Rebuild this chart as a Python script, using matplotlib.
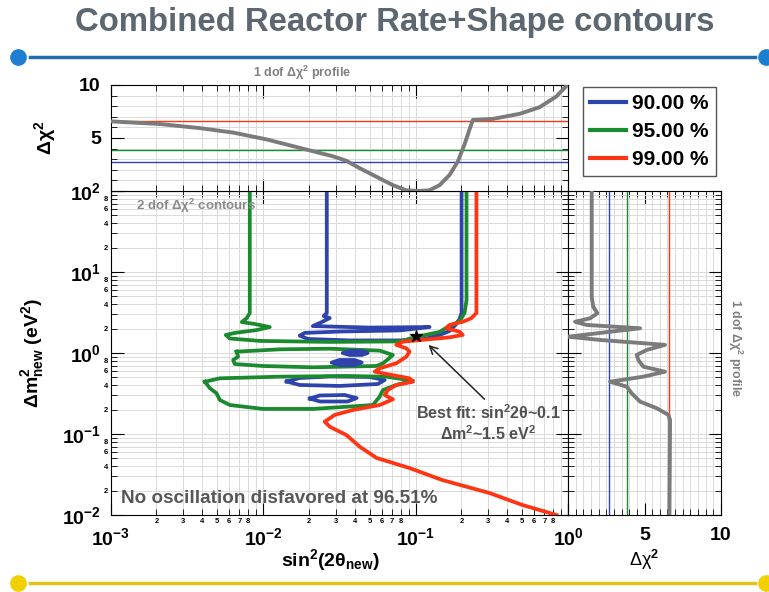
"""Combined reactor rate+shape contours with 1 dof profiles."""

import matplotlib
matplotlib.use("Agg")
import matplotlib.pyplot as plt
import numpy as np
from matplotlib.lines import Line2D
from matplotlib.ticker import FuncFormatter, LogLocator, MultipleLocator

plt.rcParams["font.family"] = ["Liberation Sans", "DejaVu Sans"]
plt.rcParams["font.weight"] = "bold"
plt.rcParams["axes.labelweight"] = "bold"
plt.rcParams["axes.titleweight"] = "bold"
plt.rcParams["mathtext.fontset"] = "custom"
plt.rcParams["mathtext.rm"] = "Liberation Sans:bold"
plt.rcParams["mathtext.bf"] = "Liberation Sans:bold"
plt.rcParams["mathtext.it"] = "Liberation Sans:bold:italic"

W, H = 769, 592

CL_LABELS = ["90.00 %", "95.00 %", "99.00 %"]
CL_CHI2 = [2.71, 3.84, 6.63]
CL_COLORS = ["#2f43ad", "#1b8a2e", "#ff3412"]
PROFILE_COLOR = "#7b7b7b"

# 1 dof profile against sin^2(2theta)
prof_s2t = [0.001, 0.00211, 0.00386, 0.00637, 0.01054, 0.01574, 0.0213, 0.0288,
            0.0352, 0.0431, 0.0553, 0.0711, 0.0871, 0.1064, 0.1236, 0.1438,
            0.167, 0.1897, 0.2097, 0.2285, 0.2377, 0.321, 0.481, 0.650, 0.836, 0.991]
prof_s2t_chi2 = [6.57, 6.32, 5.93, 5.51, 4.87, 4.23, 3.75, 3.27,
                 2.85, 2.15, 1.35, 0.55, 0.06, 0.0, 0.07, 0.55,
                 1.5, 2.8, 4.4, 6.0, 6.7, 6.8, 7.28, 7.9, 8.9, 10.0]

# 1 dof profile against dm2
prof_dm2 = [98, 4.95, 3.73, 3.09, 2.68, 2.43, 2.22, 2.02, 1.83, 1.59, 1.45, 1.26,
            1.09, 0.945, 0.820, 0.678, 0.588, 0.510, 0.442, 0.384, 0.318, 0.251,
            0.208, 0.172, 0.149, 0.0105]
prof_dm2_chi2 = [1.55, 1.55, 1.65, 1.92, 1.44, 0.46, 1.22, 4.71, 2.75, 0.02, 2.09, 6.34,
                 5.14, 4.49, 4.60, 4.92, 6.34, 4.92, 2.75, 3.84, 4.16, 4.71,
                 5.80, 6.56, 6.67, 6.63]

# 90% contour pieces
blue_main_s = [0.0262, 0.0262, 0.0250, 0.0274, 0.0243, 0.0212, 0.0500, 0.1236, 0.0787,
               0.0318, 0.0188, 0.0174, 0.0197, 0.0370, 0.0787, 0.1147, 0.144, 0.167,
               0.183, 0.1945, 0.2005, 0.2005]
blue_main_dm2 = [100, 3.12, 2.86, 2.70, 2.41, 2.15, 2.06, 2.09, 1.90,
                 1.84, 1.77, 1.64, 1.49, 1.43, 1.43, 1.49, 1.67, 1.87,
                 2.22, 2.63, 3.12, 100]
blue_isl1_s = [0.0333, 0.0370, 0.0444, 0.0485, 0.0444, 0.0370, 0.0333]
blue_isl1_dm2 = [1.0, 1.06, 1.06, 1.0, 0.945, 0.945, 1.0]
blue_isl2_s = [0.0282, 0.0318, 0.0399, 0.0444, 0.0399, 0.0318, 0.0282]
blue_isl2_dm2 = [0.763, 0.820, 0.820, 0.763, 0.711, 0.711, 0.763]
blue_isl3_s = [0.0143, 0.0174, 0.0274, 0.0500, 0.0628, 0.0565, 0.0318, 0.0174, 0.0143]
blue_isl3_dm2 = [0.445, 0.491, 0.513, 0.506, 0.464, 0.414, 0.392, 0.403, 0.445]
blue_isl4_s = [0.0203, 0.0236, 0.0343, 0.0411, 0.0359, 0.0236, 0.0203]
blue_isl4_dm2 = [0.274, 0.299, 0.303, 0.278, 0.252, 0.252, 0.274]

# 95% contour pieces
green_main_s = [0.00819, 0.00819, 0.00783, 0.00726, 0.00883, 0.01108, 0.00910, 0.00653,
                0.00570, 0.00606, 0.00953, 0.0274, 0.0787, 0.1016, 0.144, 0.162,
                0.186, 0.2005, 0.2097, 0.216, 0.216]
green_main_dm2 = [100, 3.12, 2.70, 2.41, 2.28, 2.09, 1.92, 1.77,
                  1.67, 1.51, 1.41, 1.37, 1.39, 1.58, 1.82, 2.09,
                  2.35, 2.70, 3.12, 4.51, 100]
green_loop2_s = [0.00671, 0.01288, 0.0274, 0.0582, 0.0711, 0.0659, 0.0612, 0.0553,
                 0.0213, 0.0100, 0.00653, 0.00637, 0.00687, 0.00671]
green_loop2_dm2 = [1.04, 1.11, 1.13, 1.07, 0.945, 0.836, 0.746, 0.691,
                   0.666, 0.691, 0.731, 0.820, 0.900, 1.04]
green_loop3_s = [0.00416, 0.00521, 0.01288, 0.0352, 0.0644, 0.0962, 0.0748, 0.0612,
                 0.0582, 0.0526, 0.0213, 0.0100, 0.00606, 0.00521, 0.00496, 0.00449,
                 0.00416]
green_loop3_dm2 = [0.442, 0.487, 0.510, 0.520, 0.510, 0.455, 0.403, 0.349,
                   0.289, 0.228, 0.204, 0.204, 0.228, 0.263, 0.318, 0.367,
                   0.442]

# 99% contour
red_s = [0.251, 0.251, 0.232, 0.204, 0.167, 0.159, 0.1945, 0.204, 0.167, 0.1236,
         0.0827, 0.0748, 0.0871, 0.0914, 0.0871, 0.0748, 0.0582, 0.0540, 0.0644,
         0.0914, 0.0962, 0.0748, 0.0659, 0.0628, 0.0711, 0.0582, 0.0389, 0.0295,
         0.0254, 0.0274, 0.0352, 0.0431, 0.0556, 0.0914, 0.150, 0.305, 0.502, 0.840]
red_dm2 = [100, 3.12, 2.68, 2.43, 2.22, 2.02, 1.83, 1.67, 1.56, 1.48,
           1.38, 1.26, 1.14, 1.04, 0.900, 0.746, 0.647, 0.588, 0.551,
           0.487, 0.442, 0.403, 0.349, 0.303, 0.268, 0.228, 0.198, 0.172,
           0.142, 0.123, 0.0972, 0.0697, 0.0506, 0.0380, 0.0270, 0.0187, 0.0133, 0.0100]

CONTOURS = [
    (0, blue_main_s, blue_main_dm2),
    (0, blue_isl3_s, blue_isl3_dm2),
    (0, blue_isl4_s, blue_isl4_dm2),
    (1, green_main_s, green_main_dm2),
    (1, green_loop2_s, green_loop2_dm2),
    (1, green_loop3_s, green_loop3_dm2),
    (2, red_s, red_dm2),
]
# tiny 90% islands drawn as solid blobs
BLOBS = [(blue_isl1_s, blue_isl1_dm2), (blue_isl2_s, blue_isl2_dm2)]

BEST_FIT = (0.1, 1.6)
GRID = "#dadada"


def minor_labels(keep):
    def fmt(v, pos):
        d = int(round(v / 10 ** np.floor(np.log10(v) + 1e-9)))
        return str(d) if d in keep else ""
    return FuncFormatter(fmt)


def fx(px):
    return px / W


def fy(py):
    return 1 - py / H


fig = plt.figure(figsize=(W / 100, H / 100), dpi=100)
main_w = (568 - 110.5) / W
ax = fig.add_axes([fx(110.5), fy(515), main_w, (515 - 191) / H])
ax_top = fig.add_axes([fx(110.5), fy(191), main_w, (191 - 85) / H], sharex=ax)
ax_r = fig.add_axes([fx(568), fy(515), (721 - 568) / W, (515 - 191) / H], sharey=ax)

# main contour panel
ax.set_xscale("log")
ax.set_yscale("log")
ax.set_xlim(1e-3, 1)
ax.set_ylim(1e-2, 1e2)
for ci, s, m in CONTOURS:
    ax.plot(s, m, color=CL_COLORS[ci], lw=2.7, solid_joinstyle="round", zorder=3)
for s, m in BLOBS:
    ax.fill(s, m, color=CL_COLORS[0], lw=2.7, joinstyle="round", zorder=3)
ax.plot(*BEST_FIT, marker="*", color="black", ms=9, zorder=5)
ax.annotate("", xy=(0.118, 1.33), xytext=(0.292, 0.255),
            arrowprops=dict(arrowstyle="->", color="#222222", lw=1.1, mutation_scale=14))
ax.text(0.3, 0.136, "Best fit: sin$^2$2θ~0.1\nΔm$^2$~1.5 eV$^2$", ha="center", va="center",
        fontsize=11.5, color="#505050", linespacing=1.1)
ax.text(0.022, 0.025, "No oscillation disfavored at 96.51%", transform=ax.transAxes,
        fontsize=13.6, color="#575757", va="bottom")
ax.text(0.055, 0.955, "2 dof Δχ$^2$ contours", transform=ax.transAxes,
        fontsize=9.5, color="#8a8a8a", va="center")

ax.xaxis.set_major_locator(LogLocator(base=10, numticks=10))
ax.xaxis.set_minor_locator(LogLocator(base=10, subs=np.arange(2, 10), numticks=10))
ax.xaxis.set_minor_formatter(minor_labels([2, 3, 4, 5, 6, 7, 8]))
ax.yaxis.set_major_locator(LogLocator(base=10, numticks=10))
ax.yaxis.set_minor_locator(LogLocator(base=10, subs=np.arange(2, 10), numticks=10))
ax.yaxis.set_minor_formatter(minor_labels([2, 4, 6, 8]))
ax.tick_params(which="both", direction="in", top=True, right=True)
ax.tick_params(which="major", length=9, labelsize=14, pad=9)
ax.tick_params(axis="x", which="minor", length=4, labelsize=5.5, pad=2)
ax.tick_params(axis="y", which="minor", length=4, labelsize=5.5, pad=2)
ax.tick_params(axis="y", which="major", pad=7)
ax.grid(which="both", color=GRID, lw=0.7)
ax.set_axisbelow(True)
ax.set_xlabel("sin$^2$(2θ$_{\\mathrm{new}}$)", fontsize=14)
ax.xaxis.set_label_coords(0.48, -0.1)
ax.set_ylabel("Δm$^2_{\\mathrm{new}}$ (eV$^2$)", fontsize=14)
ax.yaxis.set_label_coords(-0.14, 0.5)

# top profile panel
ax_top.plot(prof_s2t, prof_s2t_chi2, color=PROFILE_COLOR, lw=2.8, zorder=3,
            solid_joinstyle="round")
for c, col in zip(CL_CHI2, CL_COLORS):
    ax_top.axhline(c, color=col, lw=1.0, zorder=2)
ax_top.set_ylim(0, 10)
ax_top.set_yticks([0, 5, 10])
ax_top.set_yticklabels(["", "5", "10"])
ax_top.yaxis.set_minor_locator(MultipleLocator(1))
ax_top.tick_params(which="both", direction="in", top=True, right=True, labelbottom=False)
ax_top.tick_params(which="major", length=9, labelsize=14, pad=7)
ax_top.tick_params(which="minor", length=4)
ax_top.grid(which="both", color=GRID, lw=0.7)
ax_top.set_axisbelow(True)
ax_top.set_ylabel("Δχ$^2$", fontsize=14)
ax_top.yaxis.set_label_coords(-0.115, 0.5)
ax_top.text(0.419, 1.03, "1 dof Δχ$^2$ profile", transform=ax_top.transAxes,
            ha="center", va="bottom", fontsize=9, color="#808080")

# right profile panel
ax_r.plot(prof_dm2_chi2, prof_dm2, color=PROFILE_COLOR, lw=2.8, zorder=3,
          solid_joinstyle="round")
for c, col in zip(CL_CHI2, CL_COLORS):
    ax_r.axvline(c, color=col, lw=1.0, zorder=2)
ax_r.set_xlim(0, 10)
ax_r.set_xticks([0, 5, 10])
ax_r.set_xticklabels(["", "5", "10"])
ax_r.xaxis.set_minor_locator(MultipleLocator(0.5))
ax_r.tick_params(which="both", direction="in", top=True, right=True, labelleft=False)
ax_r.tick_params(which="major", length=9, labelsize=14, pad=9)
ax_r.tick_params(which="minor", length=4)
ax_r.grid(which="both", color=GRID, lw=0.7)
ax_r.set_axisbelow(True)
ax_r.set_xlabel("Δχ$^2$", fontsize=13, fontweight="normal")
ax_r.xaxis.set_label_coords(0.5, -0.1)
fig.text(fx(735), fy(348), "1 dof Δχ$^2$ profile", rotation=-90, ha="center", va="center",
         fontsize=9, color="#808080")

handles = [Line2D([], [], color=c, lw=3) for c in CL_COLORS]
fig.legend(handles, CL_LABELS, loc="upper left", bbox_to_anchor=(fx(583), fy(87)),
           frameon=True, fancybox=False, edgecolor="#555555", framealpha=1,
           prop={"weight": "bold", "size": 15}, handlelength=1.7,
           borderpad=0.35, labelspacing=0.42, handletextpad=0.3, borderaxespad=0)

# slide decoration
fig.text(0.513, fy(22), "Combined Reactor Rate+Shape contours", ha="center", va="center",
         fontsize=23.7, color="#5d6771")
fig.add_artist(Line2D([fx(30), fx(755)], [fy(57), fy(57)], color="#1f6db0", lw=2.5,
                      transform=fig.transFigure))
fig.add_artist(Line2D([fx(18), fx(766)], [fy(57), fy(57)], ls="none", marker="o", ms=11,
                      color="#1e7fd0", transform=fig.transFigure))
fig.add_artist(Line2D([fx(30), fx(755)], [fy(583), fy(583)], color="#e3c21a", lw=2.5,
                      transform=fig.transFigure))
fig.add_artist(Line2D([fx(18), fx(766)], [fy(583), fy(583)], ls="none", marker="o", ms=11,
                      color="#f0d000", transform=fig.transFigure))

fig.savefig("out.png", dpi=100)
